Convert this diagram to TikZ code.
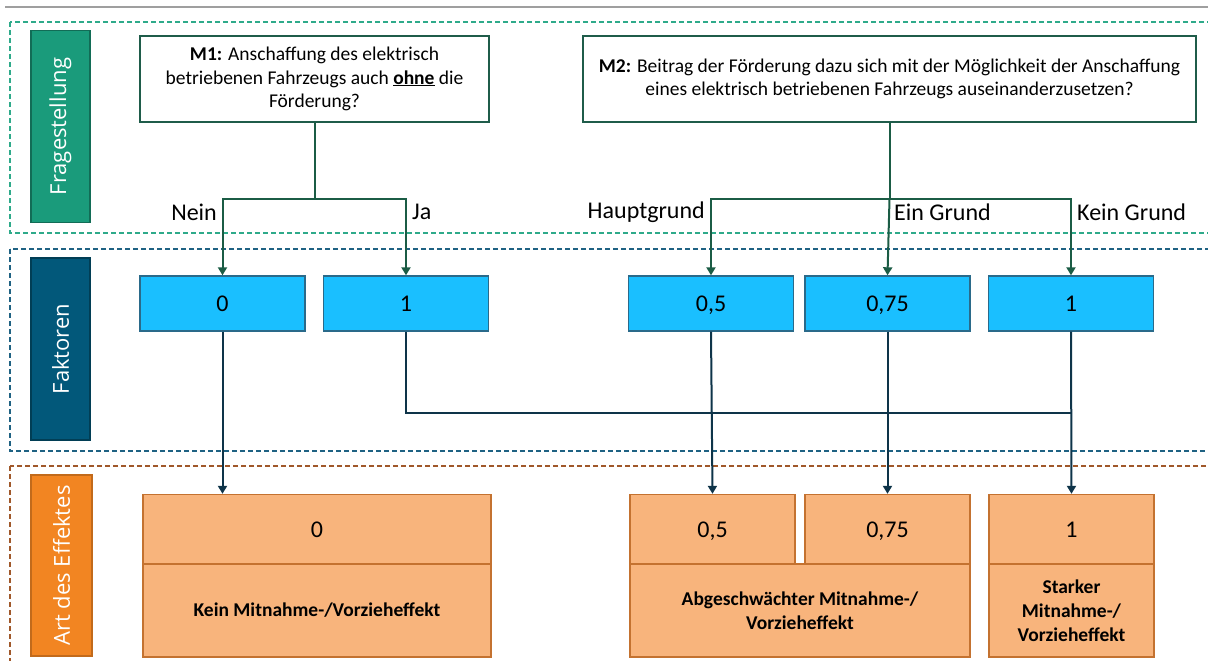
\documentclass[tikz,border=0pt]{standalone}
\usepackage{fontspec}
\setmainfont{Carlito}
\newfontfamily\rubrikfont{Open Sans}
\usepackage{xcolor}
\usepackage{tikz}
\usetikzlibrary{arrows.meta,positioning,calc}

\definecolor{fragegruen}{HTML}{1A9B7B}
\definecolor{faktorpetrol}{HTML}{02587A}
\definecolor{effektorange}{HTML}{F28522}
\definecolor{bandgruen}{HTML}{2EAA8A}
\definecolor{bandblau}{HTML}{1F6283}
\definecolor{bandbraun}{HTML}{A0582A}
\definecolor{rahmengruen}{HTML}{1F5C4A}
\definecolor{faktorblau}{HTML}{1ABFFF}
\definecolor{faktorrand}{HTML}{2A6A8A}
\definecolor{effekthell}{HTML}{F8B47C}
\definecolor{effektrand}{HTML}{C47230}
\definecolor{pfeilgruen}{HTML}{1B5C45}
\definecolor{pfeilblau}{HTML}{0E3449}

\tikzset{
  band/.style={line width=1.4pt, dash pattern=on 5pt off 3pt},
  rubrik/.style={rotate=90, minimum width=#1, minimum height=59pt, inner sep=0pt,
    line width=1.2pt, text=white, font=\rubrikfont\fontsize{22}{26}\selectfont},
  frage/.style={draw=rahmengruen, line width=1.5pt, fill=white, align=center,
    inner sep=0pt, minimum height=86pt, font=\fontsize{19.5}{23.5}\selectfont},
  faktor/.style={draw=faktorrand, fill=faktorblau, line width=1.4pt, minimum width=165pt,
    minimum height=55pt, inner sep=0pt, text height=15pt, text depth=0pt,
    font=\fontsize{24}{28}\selectfont},
  effekt/.style={draw=effektrand, fill=effekthell, line width=1.4pt, inner sep=0pt,
    minimum height=70pt, text height=15pt, text depth=0pt, font=\fontsize{24}{28}\selectfont},
  effekttext/.style={draw=effektrand, fill=effekthell, line width=1.4pt, inner sep=0pt,
    minimum height=93pt, align=center, font=\bfseries\fontsize{19.5}{24}\selectfont},
  zweig/.style={inner sep=0pt, font=\fontsize{24}{28}\selectfont},
  pfeilg/.style={draw=pfeilgruen, line width=2pt, -{Triangle[width=9pt,length=8pt]}},
  pfeild/.style={draw=pfeilblau, line width=2pt, -{Triangle[width=9pt,length=8pt]}},
  linied/.style={draw=pfeilblau, line width=2pt}
}

\begin{document}
\begin{tikzpicture}[x=1pt,y=-1pt]
  \useasboundingbox (0,0) rectangle (1208,661);
  \draw[gray!75, line width=2pt] (5,7)--(1208,7);
  \draw[band, bandgruen] (10,22) rectangle (1220,233);
  \draw[band, bandblau] (10,249) rectangle (1220,451);
  \draw[band, bandbraun] (10,466) rectangle (1220,690);

  \node[rubrik=192pt, fill=fragegruen, draw=fragegruen!70!black] (fragestellung) at (60.5,126.5) {Fragestellung};
  \node[rubrik=182pt, fill=faktorpetrol, draw=faktorpetrol!70!black] (faktoren) at (60.5,349) {Faktoren};
  \node[rubrik=181pt, fill=effektorange, draw=effektorange!80!black, minimum height=61pt] (effekt) at (61.5,565.5) {Art des Effektes};

  \node[frage, minimum width=349pt] (m1) at (314.5,79)
    {\textbf{M1:} Anschaffung des elektrisch\\betriebenen Fahrzeugs auch \underline{\textbf{ohne}} die\\F\"orderung?};
  \node[frage, minimum width=613pt] (m2) at (889.5,79)
    {\textbf{M2:} Beitrag der F\"orderung dazu sich mit der M\"oglichkeit der Anschaffung\\eines elektrisch betriebenen Fahrzeugs auseinanderzusetzen?};

  \node[faktor] (f0) at (222.5,303.5) {0};
  \node[faktor] (f1) at (406,303.5) {1};
  \node[faktor] (f05) at (711,303.5) {0,5};
  \node[faktor] (f075) at (887.5,303.5) {0,75};
  \node[faktor] (f1r) at (1071,303.5) {1};

  \node[effekt, minimum width=348pt] (e0) at (317,529.5) {0};
  \node[effekttext, minimum width=348pt] (e0text) at (317,610.5) {Kein Mitnahme-/Vorzieheffekt};
  \node[effekt, minimum width=165pt] (e05) at (712.5,529.5) {0,5};
  \node[effekt, minimum width=165pt] (e075) at (887.5,529.5) {0,75};
  \node[effekttext, minimum width=340pt] (e05text) at (800,610.5) {Abgeschw\"achter Mitnahme-/\\Vorzieheffekt};
  \node[effekt, minimum width=165pt] (e1) at (1071.5,529.5) {1};
  \node[effekttext, minimum width=165pt] (e1text) at (1071.5,610.5) {Starker\\Mitnahme-/\\Vorzieheffekt};

  \coordinate (m1knoten) at (314.5,199);
  \coordinate (m2knoten) at (889.5,199);
  \draw[pfeilg] (m1.south) -- (m1knoten) -| (f0.north);
  \draw[pfeilg] (m1knoten) -| (f1.north);
  \draw[pfeilg] (m2.south) -- (m2knoten) -| (f05.north);
  \draw[pfeilg] (m2knoten) -- (f075.north);
  \draw[pfeilg] (m2knoten) -| (f1r.north);

  \node[zweig, anchor=east] (nein) at (217,212) {Nein};
  \node[zweig, anchor=west] (ja) at (412,212) {Ja};
  \node[zweig, anchor=east] (hauptgrund) at (705,212) {Hauptgrund};
  \node[zweig, anchor=west] (eingrund) at (894,212) {Ein Grund};
  \node[zweig, anchor=west] (keingrund) at (1077,212) {Kein Grund};

  \draw[pfeild] (f0.south) -- (f0.south |- e0.north);
  \draw[pfeild] (f05.south) -- (e05.north);
  \draw[pfeild] (f075.south) -- (e075.north);
  \draw[pfeild] (f1r.south) -- (e1.north);
  \draw[linied] (f1.south) |- ($(f1r.south)!0.5!(e1.north)$);
\end{tikzpicture}
\end{document}
